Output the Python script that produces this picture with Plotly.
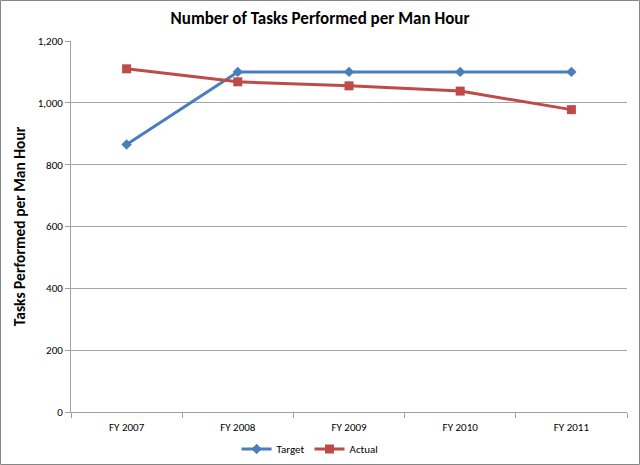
import plotly.graph_objects as go

years = ["FY 2007", "FY 2008", "FY 2009", "FY 2010", "FY 2011"]
target = [865, 1100, 1100, 1100, 1100]
actual = [1110, 1068, 1055, 1038, 978]
y_ticks = [0, 200, 400, 600, 800, 1000, 1200]
y_ticktext = ["0", "200", "400", "600", "800", "1,000", "1,200"]

FONT = "Carlito, Liberation Sans Narrow, Noto Sans, sans-serif"

fig = go.Figure()
fig.add_trace(go.Scatter(
    x=years, y=target, name="Target", mode="lines+markers",
    line=dict(color="#4A7EBB", width=3),
    marker=dict(symbol="diamond", size=8, color="#4A7EBB"),
))
fig.add_trace(go.Scatter(
    x=years, y=actual, name="Actual", mode="lines+markers",
    line=dict(color="#BE4B48", width=3),
    marker=dict(symbol="square", size=9, color="#BE4B48"),
))

fig.update_layout(
    width=640, height=465,
    margin=dict(l=71, r=13, t=41, b=53, autoexpand=False),
    paper_bgcolor="white", plot_bgcolor="white",
    font=dict(family=FONT, color="#000000", size=11),
    title=dict(text="<b>Number of Tasks Performed per Man Hour</b>",
               x=0.5, xanchor="center", y=1 - 18 / 465, yanchor="middle",
               font=dict(size=17, family=FONT, color="#000000")),
    showlegend=True,
    legend=dict(orientation="h", x=0.43, xanchor="center",
                yref="container", y=1 - 449 / 465, yanchor="middle",
                font=dict(size=11, family=FONT),
                itemwidth=30, tracegroupgap=0, bgcolor="rgba(0,0,0,0)"),
    shapes=[dict(type="rect", xref="paper", yref="paper",
                 x0=(0.5 - 71) / 556, x1=(639.5 - 71) / 556,
                 y0=(412 - 464.5) / 371, y1=(412 - 0.5) / 371,
                 line=dict(color="#868686", width=1), layer="below")],
)

fig.update_xaxes(
    type="category", showgrid=False, showline=True, linecolor="#A0A0A0",
    linewidth=1, ticks="outside", tickson="boundaries", ticklen=5,
    tickcolor="#A0A0A0", tickfont=dict(size=11, family=FONT),
    ticklabelstandoff=5,
    range=[-0.5, 4.5], automargin=False,
)
fig.update_yaxes(
    range=[0, 1200], tickvals=y_ticks, ticktext=y_ticktext,
    showgrid=True, gridcolor="#A6A6A6", gridwidth=1,
    showline=True, linecolor="#A0A0A0", linewidth=1,
    ticks="outside", ticklen=5, tickcolor="#A0A0A0",
    tickfont=dict(size=11, family=FONT), zeroline=False, automargin=False,
    title=dict(text="<b>Tasks Performed per Man Hour</b>",
               font=dict(size=15.5, family=FONT), standoff=8),
)

fig.write_html("out.html")
